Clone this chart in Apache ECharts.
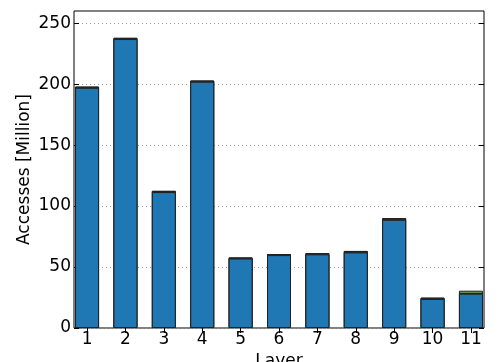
<!DOCTYPE html>
<html>
<head>
<meta charset="utf-8">
<script src="https://cdn.jsdelivr.net/npm/echarts@6/dist/echarts.min.js"></script>
<style>
  html, body { margin: 0; padding: 0; background: #fff; }
  #ech { width: 499px; height: 362px; }
</style>
</head>
<body>
<div id="ech"></div>
<script>
// layer numbers and accesses (million), stacked parts
var layers = [1, 2, 3, 4, 5, 6, 7, 8, 9, 10, 11];
var mainPart = [197, 237, 111.5, 202, 57, 59.8, 60.4, 62, 88.8, 23.8, 28.2];
var darkPart = [1, 1, 1, 1, 0.9, 0.9, 1, 1.2, 1.3, 1.1, 0.6];
var greenPart = [0, 0, 0, 0, 0, 0, 0, 0, 0, 0, 1.8];
var yTicks = [0, 50, 100, 150, 200, 250];

// stack by hand: value x axis does not stack, so overlap cumulative bars
function stacked(parts) {
  return layers.map(function (l, i) {
    var s = 0;
    parts.forEach(function (p) { s += p[i]; });
    return [l, s];
  });
}

var myChart = echarts.init(document.getElementById("ech"));
var font = "DejaVu Sans";
var barStyle = function (c) {
  return { color: c, borderColor: "#222", borderWidth: 1 };
};

var option = {
  animation: false,
  grid: {
    left: 74, right: 15, top: 11, bottom: 34,
    outerBoundsMode: "none",
    containLabel: false,
    show: true, borderColor: "#000", borderWidth: 1
  },
  xAxis: [{
    type: "value",
    min: 0.66, max: 11.34,
    axisLine: { show: false },
    splitLine: { show: false },
    axisTick: { inside: true, length: 5, lineStyle: { color: "#000" }, customValues: layers },
    axisLabel: { customValues: layers, color: "#000", fontFamily: font, fontSize: 17, margin: 3 },
    name: "Layer",
    nameLocation: "middle",
    nameGap: 25,
    nameMoveOverlap: false,
    nameTextStyle: { color: "#000", fontFamily: font, fontSize: 17 }
  }, {
    type: "value",
    position: "top",
    min: 0.66, max: 11.34,
    axisLine: { show: false },
    splitLine: { show: false },
    axisTick: { inside: true, length: 5, lineStyle: { color: "#000" }, customValues: layers },
    axisLabel: { show: false, customValues: layers }
  }],
  yAxis: [{
    type: "value",
    min: 0, max: 260,
    axisLine: { show: false },
    axisTick: { show: true, inside: true, length: 5, lineStyle: { color: "#000" }, customValues: yTicks },
    axisLabel: { customValues: yTicks, color: "#000", fontFamily: font, fontSize: 17, margin: 3 },
    splitLine: { show: true, lineStyle: { color: "#999", type: [1, 3], width: 1 } },
    name: "Accesses [Million]",
    nameLocation: "middle",
    nameGap: 41,
    nameMoveOverlap: false,
    nameTextStyle: { color: "#000", fontFamily: font, fontSize: 17 }
  }, {
    type: "value",
    position: "right",
    min: 0, max: 260,
    axisLine: { show: false },
    axisTick: { show: true, inside: true, length: 5, lineStyle: { color: "#000" }, customValues: yTicks },
    axisLabel: { show: false, customValues: yTicks },
    splitLine: { show: false }
  }],
  series: [
    { type: "bar", barWidth: 24, barGap: "-100%", z: 2, data: stacked([mainPart, darkPart, greenPart]), itemStyle: barStyle("#6f9f4f") },
    { type: "bar", barWidth: 24, barGap: "-100%", z: 3, data: stacked([mainPart, darkPart]), itemStyle: barStyle("#2c2c2c") },
    { type: "bar", barWidth: 24, barGap: "-100%", z: 4, data: stacked([mainPart]), itemStyle: barStyle("#1f77b4") }
  ]
};

myChart.setOption(option);
</script>
</body>
</html>
